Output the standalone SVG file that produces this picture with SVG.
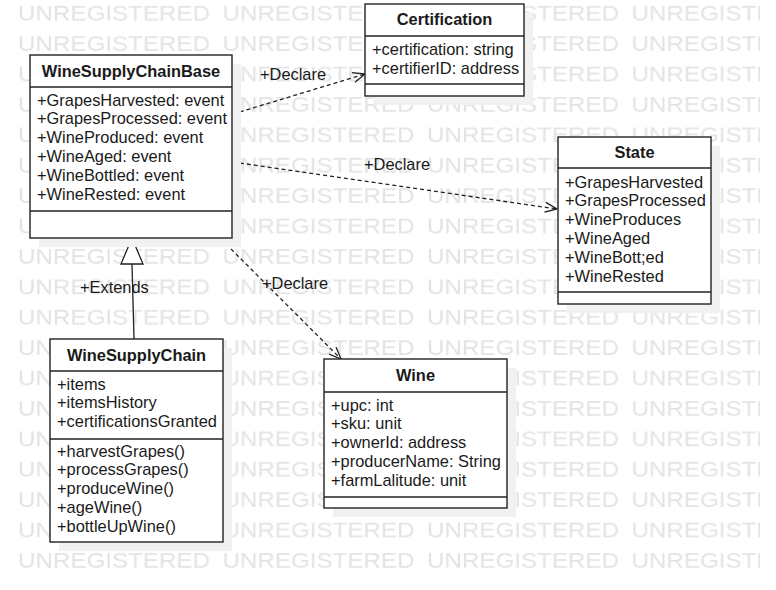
<svg xmlns="http://www.w3.org/2000/svg" width="776" height="590" viewBox="0 0 776 590">
<style>
.bg{fill:#ffffff}
.wm{font-family:"Liberation Sans",Arial,sans-serif;font-size:21.5px;fill:#e3e3e3}
.box{fill:#ffffff;stroke:#222222;stroke-width:1.4}
.sh{fill:#f1f1f1}
.div{stroke:#222222;stroke-width:1.4}
.t{font-family:"Liberation Sans",Arial,sans-serif;font-size:16.4px;fill:#1a1a1a}
.h{font-family:"Liberation Sans",Arial,sans-serif;font-size:16.4px;font-weight:bold;fill:#1a1a1a;text-anchor:middle}
.dep{fill:none;stroke:#222222;stroke-width:1.3;stroke-dasharray:4 3}
.gen{fill:none;stroke:#222222;stroke-width:1.3}
</style>
<defs>
<pattern id="wmp" patternUnits="userSpaceOnUse" x="18" y="0" width="204.5" height="30.4">
<text class="wm" x="0" y="20.5" textLength="192" lengthAdjust="spacingAndGlyphs">UNREGISTERED</text>
</pattern>
<marker id="open" markerUnits="userSpaceOnUse" viewBox="0 0 13 11" refX="12.5" refY="5.5" markerWidth="13" markerHeight="11" orient="auto">
<path d="M0.5,0.5 L12.5,5.5 L0.5,10.5" fill="none" stroke="#222222" stroke-width="1.3" stroke-dasharray="none"/>
</marker>
</defs>
<rect class="bg" x="0" y="0" width="776" height="590"/>
<rect x="18" y="0" width="742" height="580" fill="url(#wmp)"/>

<g id="connectors">
<path class="dep" d="M233,114 L365,74" marker-end="url(#open)"/>
<path class="dep" d="M233,162 L557,209" marker-end="url(#open)"/>
<path class="dep" d="M221,239 L341,359" marker-end="url(#open)"/>
<path class="gen" d="M134,339 L132,264"/>
<polygon points="132,238 121,264 143,264" fill="#ffffff" stroke="#222222" stroke-width="1.3"/>
<text class="t" x="260" y="80">+Declare</text>
<text class="t" x="364" y="170">+Declare</text>
<text class="t" x="262" y="289">+Declare</text>
<text class="t" x="80" y="293">+Extends</text>
</g>

<g id="WineSupplyChainBase">
<rect class="sh" x="39" y="64" width="202" height="183"/>
<rect class="box" x="30" y="55" width="202" height="183"/>
<line class="div" x1="30" y1="87" x2="232" y2="87"/>
<line class="div" x1="30" y1="211" x2="232" y2="211"/>
<text class="h" x="131" y="77">WineSupplyChainBase</text>
<text class="t" x="37" y="105.5">+GrapesHarvested: event</text>
<text class="t" x="37" y="124.4">+GrapesProcessed: event</text>
<text class="t" x="37" y="143.3">+WineProduced: event</text>
<text class="t" x="37" y="162.2">+WineAged: event</text>
<text class="t" x="37" y="181.1">+WineBottled: event</text>
<text class="t" x="37" y="200">+WineRested: event</text>
</g>

<g id="Certification">
<rect class="sh" x="374" y="13" width="159" height="92"/>
<rect class="box" x="365" y="4" width="159" height="92"/>
<line class="div" x1="365" y1="36" x2="524" y2="36"/>
<line class="div" x1="365" y1="84" x2="524" y2="84"/>
<text class="h" x="444.5" y="25">Certification</text>
<text class="t" x="372" y="55">+certification: string</text>
<text class="t" x="372" y="74">+certifierID: address</text>
</g>

<g id="State">
<rect class="sh" x="567" y="146" width="153" height="167"/>
<rect class="box" x="558" y="137" width="153" height="167"/>
<line class="div" x1="558" y1="168" x2="711" y2="168"/>
<line class="div" x1="558" y1="292" x2="711" y2="292"/>
<text class="h" x="634.5" y="158">State</text>
<text class="t" x="565" y="187.5">+GrapesHarvested</text>
<text class="t" x="565" y="206.4">+GrapesProcessed</text>
<text class="t" x="565" y="225.3">+WineProduces</text>
<text class="t" x="565" y="244.2">+WineAged</text>
<text class="t" x="565" y="263.1">+WineBott;ed</text>
<text class="t" x="565" y="282">+WineRested</text>
</g>

<g id="WineSupplyChain">
<rect class="sh" x="59" y="348" width="173" height="203"/>
<rect class="box" x="50" y="339" width="173" height="203"/>
<line class="div" x1="50" y1="371" x2="223" y2="371"/>
<line class="div" x1="50" y1="439" x2="223" y2="439"/>
<text class="h" x="136.5" y="361">WineSupplyChain</text>
<text class="t" x="57" y="389.5">+items</text>
<text class="t" x="57" y="408.4">+itemsHistory</text>
<text class="t" x="57" y="427.3">+certificationsGranted</text>
<text class="t" x="57" y="456.5">+harvestGrapes()</text>
<text class="t" x="57" y="475.4">+processGrapes()</text>
<text class="t" x="57" y="494.3">+produceWine()</text>
<text class="t" x="57" y="513.2">+ageWine()</text>
<text class="t" x="57" y="532.1">+bottleUpWine()</text>
</g>

<g id="Wine">
<rect class="sh" x="333" y="368" width="183" height="149"/>
<rect class="box" x="324" y="359" width="183" height="149"/>
<line class="div" x1="324" y1="392" x2="507" y2="392"/>
<line class="div" x1="324" y1="497" x2="507" y2="497"/>
<text class="h" x="415.5" y="381">Wine</text>
<text class="t" x="331" y="410.5">+upc: int</text>
<text class="t" x="331" y="429.4">+sku: unit</text>
<text class="t" x="331" y="448.3">+ownerId: address</text>
<text class="t" x="331" y="467.2">+producerName: String</text>
<text class="t" x="331" y="486.1">+farmLalitude: unit</text>
</g>
</svg>
